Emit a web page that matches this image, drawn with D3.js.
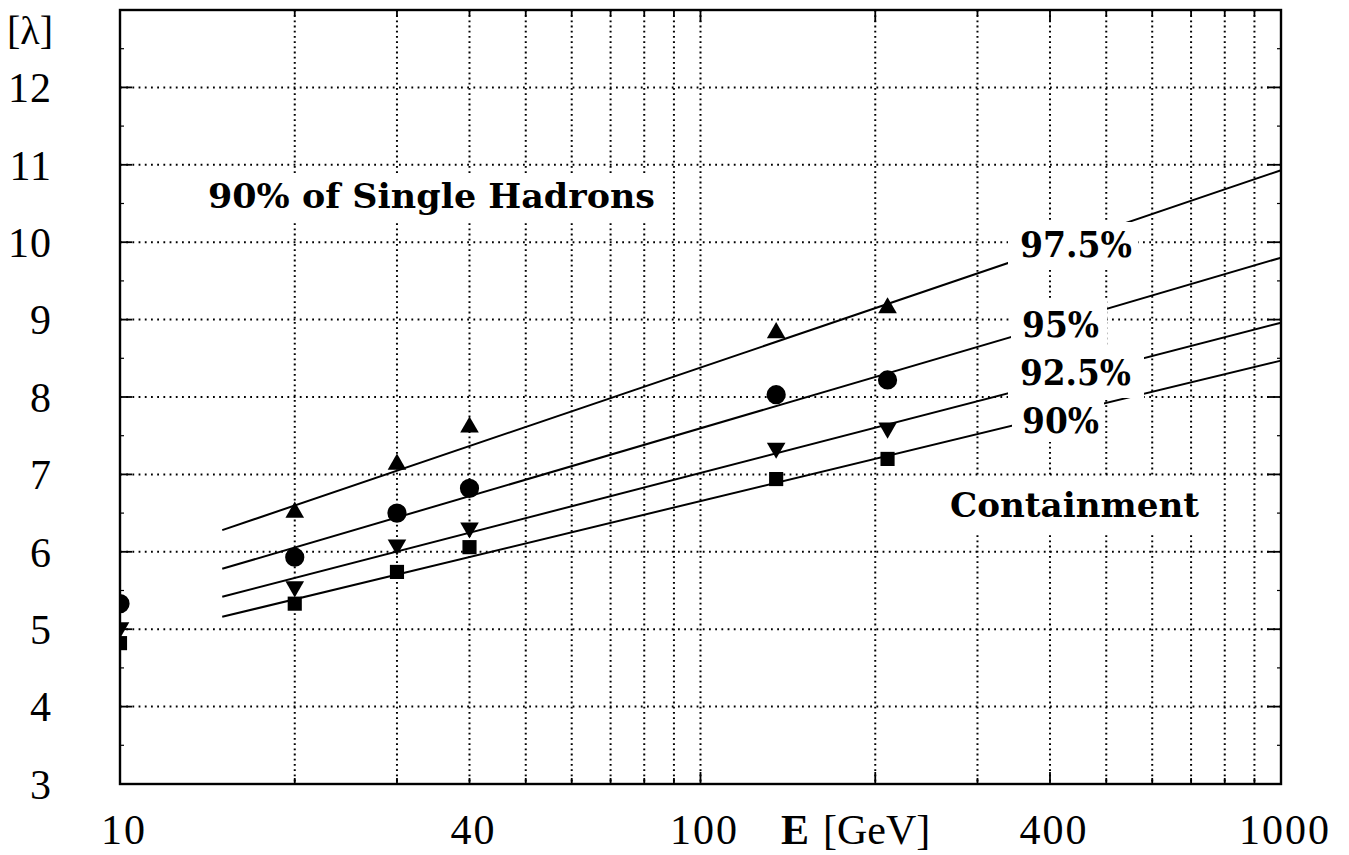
<!DOCTYPE html>
<html>
<head>
<meta charset="utf-8">
<script src="https://cdn.jsdelivr.net/npm/d3@7"></script>
<style>
  html, body { margin: 0; padding: 0; background: #fff; }
  svg { display: block; }
</style>
</head>
<body>
<svg id="chart" width="1349" height="855"></svg>
<script>
// ---------------- DATA ----------------
const energies   = [10, 20, 30, 40, 135, 210];            // E [GeV]
const cont975    = [null, 6.51, 7.13, 7.61, 8.83, 9.15];   // 97.5% (triangle up)
const cont95     = [5.33, 5.93, 6.50, 6.82, 8.03, 8.22];   // 95%   (circle)
const cont925    = [5.02, 5.55, 6.09, 6.31, 7.34, 7.60];   // 92.5% (triangle down)
const cont90     = [4.82, 5.33, 5.74, 6.06, 6.94, 7.20];   // 90%   (square)

const fitEnergy  = [15, 1000];
const fit975     = [6.28, 10.93];
const fit95      = [5.78, 9.80];
const fit925     = [5.42, 8.96];
const fit90      = [5.16, 8.47];

const xTickLabels = [10, 40, 100, 400, 1000];
const xGrid       = [20,30,40,50,60,70,80,90,100,200,300,400,500,600,700,800,900];
const yTickLabels = [3,4,5,6,7,8,9,10,11,12];
const yGrid       = [4,5,6,7,8,9,10,11,12];
const yMinor      = [3.5,4.5,5.5,6.5,7.5,8.5,9.5,10.5,11.5,12.5];

// ---------------- LAYOUT ----------------
const svg = d3.select("#chart");
const L = 120, R = 1281, T = 10, B = 784;
const x = d3.scaleLog().domain([10, 1000]).range([L, R]);
const y = d3.scaleLinear().domain([3, 13]).range([B, T]);

svg.append("rect").attr("width", 1349).attr("height", 855).attr("fill", "#fff");

svg.append("defs").append("clipPath").attr("id", "plotclip")
  .append("rect").attr("x", L).attr("y", T).attr("width", R - L).attr("height", B - T);

// grid
const grid = svg.append("g").attr("stroke", "#000").attr("stroke-width", 2).attr("fill", "none");
grid.selectAll("line.v").data(xGrid).join("line").attr("class", "v")
  .attr("x1", d => x(d)).attr("x2", d => x(d)).attr("y1", T).attr("y2", B)
  .attr("stroke-dasharray", "1.8,3.4");
grid.selectAll("line.h").data(yGrid).join("line").attr("class", "h")
  .attr("x1", L).attr("x2", R).attr("y1", d => y(d)).attr("y2", d => y(d))
  .attr("stroke-dasharray", "1.8,4.4");

// fit lines
const fits = [fit975, fit95, fit925, fit90];
const lineGen = d3.line().x(d => x(d[0])).y(d => y(d[1]));
svg.append("g").selectAll("path").data(fits).join("path")
  .attr("d", f => lineGen(fitEnergy.map((e, i) => [e, f[i]])))
  .attr("stroke", "#000").attr("stroke-width", 2).attr("fill", "none");

// label masks + labels
const masks = [
  [200, 174, 462, 48],    // title
  [1008, 222, 130, 46],   // 97.5
  [1011, 300, 96, 45],    // 95
  [1008, 348, 136, 50],   // 92.5
  [1012, 398, 92, 44],    // 90
  [940, 478, 266, 54]     // Containment
];
svg.append("g").selectAll("rect").data(masks).join("rect")
  .attr("x", d => d[0]).attr("y", d => d[1]).attr("width", d => d[2]).attr("height", d => d[3])
  .attr("fill", "#fff");

const boldFont = "'DejaVu Serif', serif";
const labels = [
  {t: "90% of Single Hadrons", x: 208, y: 208, w: 447, s: 33},
  {t: "97.5%", x: 1020, y: 257, w: 112, s: 35},
  {t: "95%", x: 1022, y: 337, w: 77, s: 35},
  {t: "92.5%", x: 1020, y: 385, w: 111, s: 35},
  {t: "90%", x: 1022, y: 433, w: 77, s: 35},
  {t: "Containment", x: 950, y: 517, w: 249, s: 33}
];
svg.append("g").selectAll("text").data(labels).join("text")
  .attr("x", d => d.x).attr("y", d => d.y)
  .attr("font-family", boldFont).attr("font-weight", "bold")
  .attr("font-size", d => d.s).attr("fill", "#000")
  .attr("textLength", d => d.w).attr("lengthAdjust", "spacingAndGlyphs")
  .text(d => d.t);

// markers
const mk = svg.append("g").attr("clip-path", "url(#plotclip)");
const series = [
  {vals: cont975, type: d3.symbolTriangle, size: 150, rot: 0},
  {vals: cont95,  type: d3.symbolCircle,   size: 290, rot: 0},
  {vals: cont925, type: d3.symbolTriangle, size: 150, rot: 180},
  {vals: cont90,  type: d3.symbolSquare,   size: 200, rot: 0}
];
series.forEach(s => {
  const pts = energies.map((e, i) => [e, s.vals[i]]).filter(p => p[1] != null);
  mk.selectAll(null).data(pts).join("path")
    .attr("d", d3.symbol().type(s.type).size(s.size))
    .attr("transform", d => `translate(${x(d[0])},${y(d[1])}) rotate(${s.rot})`)
    .attr("fill", "#000");
});

// axes frame
const ax = svg.append("g").attr("stroke", "#000").attr("fill", "none");
ax.append("rect").attr("x", L).attr("y", T).attr("width", R - L).attr("height", B - T)
  .attr("stroke-width", 2.4);

// y ticks (left & right, inward)
ax.selectAll("line.yl").data(yGrid).join("line").attr("class", "yl")
  .attr("x1", L).attr("x2", L + 12).attr("y1", d => y(d)).attr("y2", d => y(d)).attr("stroke-width", 1.8);
ax.selectAll("line.yr").data(yGrid).join("line").attr("class", "yr")
  .attr("x1", R).attr("x2", R - 14).attr("y1", d => y(d)).attr("y2", d => y(d)).attr("stroke-width", 1.8);
ax.selectAll("line.ylm").data(yMinor).join("line").attr("class", "ylm")
  .attr("x1", L).attr("x2", L + 4).attr("y1", d => y(d)).attr("y2", d => y(d)).attr("stroke-width", 1.2);
ax.selectAll("line.yrm").data(yMinor).join("line").attr("class", "yrm")
  .attr("x1", R).attr("x2", R - 4).attr("y1", d => y(d)).attr("y2", d => y(d)).attr("stroke-width", 1.2);

// x ticks (top & bottom, inward)
const tickLen = d => ([100, 200, 400].includes(d) ? 12 : 6);
ax.selectAll("line.xb").data(xGrid).join("line").attr("class", "xb")
  .attr("x1", d => x(d)).attr("x2", d => x(d)).attr("y1", B).attr("y2", d => B - tickLen(d)).attr("stroke-width", 1.8);
ax.selectAll("line.xt").data(xGrid).join("line").attr("class", "xt")
  .attr("x1", d => x(d)).attr("x2", d => x(d)).attr("y1", T).attr("y2", d => T + tickLen(d)).attr("stroke-width", 1.8);

// tick labels
const regFont = "'Liberation Serif', 'Times New Roman', serif";
svg.append("g").selectAll("text").data(yTickLabels).join("text")
  .attr("x", 52).attr("y", d => y(d)).attr("dy", "0.35em")
  .attr("text-anchor", "end").attr("font-family", regFont).attr("font-size", 42)
  .attr("letter-spacing", 1).text(d => d);

svg.append("text").attr("x", 30).attr("y", 30).attr("dy", "0.35em")
  .attr("text-anchor", "middle").attr("font-family", regFont).attr("font-size", 40)
  .text("[λ]");

svg.append("g").selectAll("text").data(xTickLabels).join("text")
  .attr("x", d => x(d) + 4).attr("y", 844)
  .attr("text-anchor", "middle").attr("font-family", regFont).attr("font-size", 42)
  .attr("letter-spacing", 2).text(d => d);

const xt = svg.append("text").attr("x", 781).attr("y", 844)
  .attr("font-family", regFont).attr("font-size", 42);
xt.append("tspan").attr("font-weight", "bold").text("E");
xt.append("tspan").attr("dx", 14).text("[GeV]");
</script>
</body>
</html>
